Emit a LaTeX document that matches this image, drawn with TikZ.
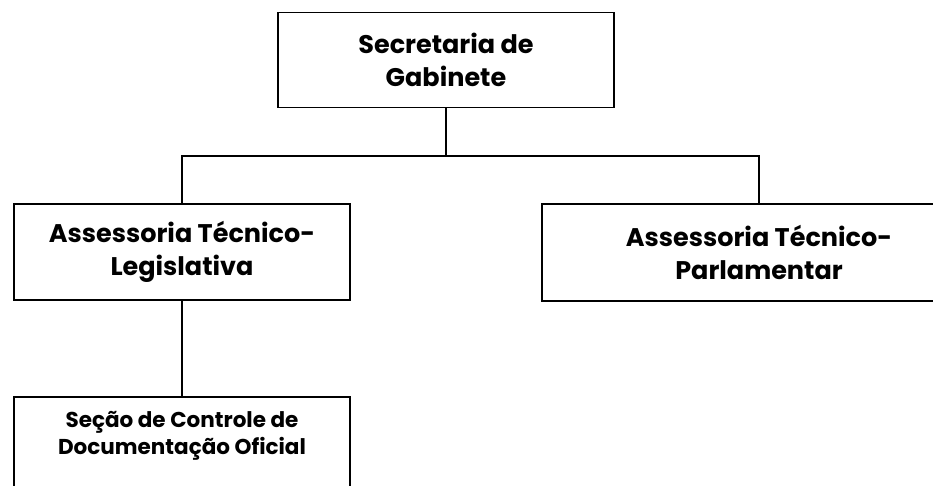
\documentclass[tikz,border=0pt]{standalone}
\usepackage{fontspec}
\setmainfont{Poppins}
\begin{document}
\begin{tikzpicture}[x=1pt,y=-1pt,
  box/.style={draw=black, line width=1.6pt, rectangle, inner sep=0pt, align=center,
    font=\bfseries\fontsize{25.5}{32.5}\selectfont},
  smalltext/.style={align=center, inner sep=0pt, font=\bfseries\fontsize{21.5}{27}\selectfont},
  conn/.style={draw=black, line width=1.6pt}]
\useasboundingbox (0,0) rectangle (933,486);
\node[box, minimum width=336, minimum height=95] (sec) at (446,60) {Secretaria de\\Gabinete};
\node[box, minimum width=336, minimum height=96] (atl) at (182,252) {Assessoria Técnico-\\Legislativa};
\node[box, minimum width=434, minimum height=97] (atp) at (759,252.5) {Assessoria Técnico-\\Parlamentar};
\node[box, minimum width=336, minimum height=110, anchor=north] (scd) at (182,396) {};
\node[smalltext] (scdt) at (182,436) {Seção de Controle de\\Documentação Oficial};
\coordinate (j) at (446,156);
\draw[conn] (sec.south) -- (j);
\draw[conn] (atl.north) |- (j) -| (atp.north);
\draw[conn] (atl.south) -- (scd.north);
\end{tikzpicture}
\end{document}
